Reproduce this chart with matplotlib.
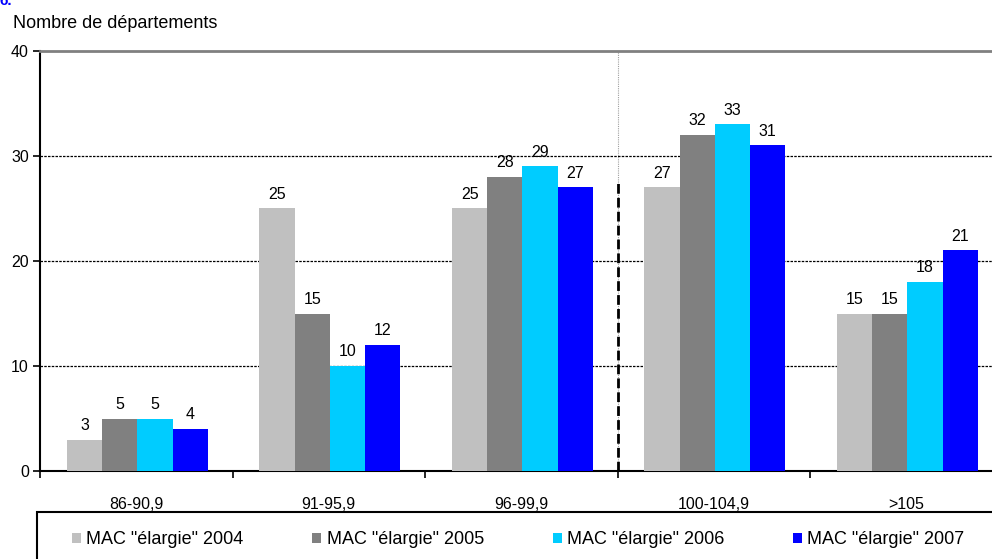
import numpy as np
import matplotlib.pyplot as plt
from matplotlib.patches import Patch, Rectangle

plt.rcParams['font.family'] = ['Liberation Sans', 'DejaVu Sans']

# Tranches et nombre de départements par année
tranches = ['86-90,9', '91-95,9', '96-99,9', '100-104,9', '>105']
series = ['MAC "élargie" 2004', 'MAC "élargie" 2005',
          'MAC "élargie" 2006', 'MAC "élargie" 2007']
v2004 = [3, 25, 25, 27, 15]
v2005 = [5, 15, 28, 32, 15]
v2006 = [5, 10, 29, 33, 18]
v2007 = [4, 12, 27, 31, 21]
couleurs = ['#C0C0C0', '#808080', '#00CCFF', '#0000FF']

W, H = 992, 559
fig = plt.figure(figsize=(W / 100, H / 100), dpi=100)
ax = fig.add_axes([40 / W, (H - 471) / H, 962.5 / W, 420 / H])

x = np.arange(len(tranches))
width = 0.183
for i, (vals, c) in enumerate(zip([v2004, v2005, v2006, v2007], couleurs)):
    rects = ax.bar(x + (i - 1.5) * width + 0.006, vals, width, color=c, zorder=3)
    for r, v in zip(rects, vals):
        ax.annotate(str(v), xy=(r.get_x() + r.get_width() / 2, v),
                    xytext=(0, 5), textcoords='offset points',
                    ha='center', va='bottom', fontsize=11.5, zorder=4)

ax.set_xlim(-0.5, 4.5)
ax.set_ylim(0, 40)

# grille pointillée
for yv in [10, 20, 30]:
    ax.axhline(yv, color='black', lw=0.9, ls=(0, (2, 1)), zorder=1)

# séparation 100
ax.axvline(2.5, color='#A0A0A0', lw=0.8, ls=(0, (1, 1)), zorder=2)
ax.plot([2.5, 2.5], [0, 27.5], color='black', lw=2, ls=(0, (3.5, 1.5)), zorder=2)

ax.set_yticks([0, 10, 20, 30, 40])
ax.tick_params(axis='y', direction='out', length=5, width=1.2, labelsize=11.5, pad=3)
ax.set_xticks(x)
ax.set_xticklabels(tranches)
ax.set_xticks(np.arange(-0.5, 5, 1), minor=True)
ax.tick_params(axis='x', which='major', length=0, labelsize=11.5, pad=19)
ax.tick_params(axis='x', which='minor', direction='out', length=5, width=1.2)

ax.spines['right'].set_visible(False)
ax.spines['top'].set_color('#808080')
ax.spines['top'].set_linewidth(2)
ax.spines['left'].set_linewidth(1.5)
ax.spines['bottom'].set_linewidth(1.5)

fig.text(13 / W, 1 - 23 / H, 'Nombre de départements', fontsize=13,
         ha='left', va='center')
fig.text(0 / W, 1 - 1 / H, '6.', fontsize=11, color='#0000FF',
         fontweight='bold', ha='left', va='center')

# cadre de la légende
fig.patches.append(Rectangle((37 / W, -0.05), 1.0, (H - 512) / H + 0.05,
                             transform=fig.transFigure, fill=False,
                             edgecolor='black', lw=1.5))
handles = [Patch(facecolor=c, edgecolor='none', label=s)
           for c, s in zip(couleurs, series)]
fig.legend(handles=handles, ncol=4, frameon=False, fontsize=13,
           loc='center left', bbox_to_anchor=(72 / W, 1 - 540 / H),
           handlelength=0.5, handleheight=0.5, handletextpad=0.3,
           columnspacing=3.8, borderaxespad=0, borderpad=0)

fig.savefig('out.png', dpi=100)
